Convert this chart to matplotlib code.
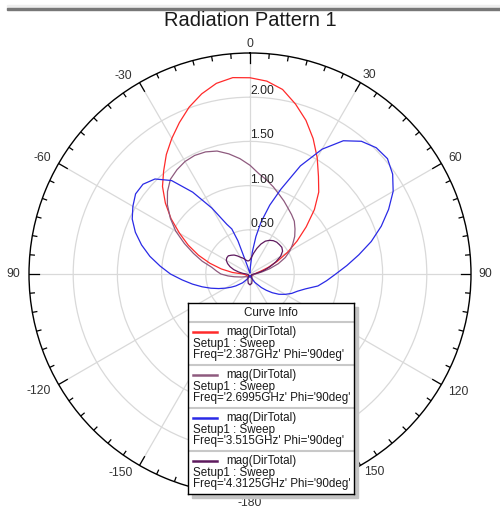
import numpy as np
import matplotlib
matplotlib.use("Agg")
import matplotlib.pyplot as plt
from matplotlib.patches import Rectangle

plt.rcParams['font.family'] = ['Liberation Sans', 'DejaVu Sans']

# curve data: theta in degrees, mag(DirTotal)
red_theta = [-180, -150, -120, -100, -90, -85, -80, -75, -70, -65, -60, -55, -50, -45, -40, -35,
             -30, -25, -20, -15, -10, -5, 0, 5, 10, 15, 20, 25, 30, 35, 40, 45, 50, 55, 60, 65,
             70, 75, 80, 90, 100, 120, 150, 180]
red_r = [0.03, 0.03, 0.04, 0.05, 0.08, 0.20, 0.33, 0.47, 0.62, 0.77, 0.92, 1.09, 1.25, 1.40, 1.52, 1.65,
         1.77, 1.89, 2.01, 2.11, 2.19, 2.23, 2.22, 2.19, 2.12, 1.99, 1.85, 1.69, 1.52, 1.35, 1.21, 1.03,
         0.83, 0.65, 0.49, 0.34, 0.22, 0.13, 0.08, 0.05, 0.04, 0.03, 0.03, 0.03]

mauve_theta = [-180, -150, -120, -110, -100, -95, -90, -85, -80, -75, -70, -65, -60, -55, -50, -45,
               -40, -35, -30, -25, -20, -15, -10, -5, 0, 5, 10, 15, 20, 25, 30, 35, 40, 45, 50, 55,
               60, 65, 70, 75, 80, 90, 100, 120, 150, 180]
mauve_r = [0.03, 0.04, 0.06, 0.10, 0.18, 0.25, 0.33, 0.38, 0.44, 0.56, 0.68, 0.82, 0.97, 1.10, 1.22, 1.32,
           1.40, 1.44, 1.47, 1.48, 1.47, 1.44, 1.38, 1.31, 1.23, 1.14, 1.08, 1.02, 0.96, 0.91, 0.86, 0.82,
           0.78, 0.72, 0.66, 0.59, 0.52, 0.44, 0.34, 0.23, 0.14, 0.06, 0.04, 0.03, 0.03, 0.03]

blue_theta = [-180, -165, -150, -140, -130, -125, -120, -115, -110, -105, -100, -95, -90, -85, -80,
              -75, -70, -65, -60, -55, -50, -45, -40, -35, -30, -25, -22, -20, -18, -15, -10, -5, 0,
              3, 6, 9, 12, 16, 20, 25, 30, 35, 40, 45, 50, 55, 60, 65, 70, 75, 80, 85, 90, 95, 100,
              105, 110, 115, 120, 125, 130, 135, 140, 150, 160, 170, 180]
blue_r = [0.02, 0.03, 0.07, 0.13, 0.21, 0.26, 0.32, 0.39, 0.47, 0.56, 0.66, 0.77, 0.90, 1.02, 1.15,
          1.27, 1.38, 1.47, 1.53, 1.58, 1.58, 1.52, 1.38, 1.13, 0.86, 0.62, 0.55, 0.40, 0.10, 0.03, 0.02, 0.01, 0.01,
          0.08, 0.25, 0.43, 0.60, 0.81, 1.02, 1.35, 1.63, 1.84, 1.96, 2.02, 2.03, 1.97, 1.87, 1.73, 1.58, 1.42,
          1.25, 1.10, 0.97, 0.87, 0.78, 0.65, 0.57, 0.52, 0.46, 0.40, 0.33, 0.26, 0.20, 0.11, 0.05, 0.03, 0.02]

purple_theta = [-180, -170, -160, -150, -130, -110, -90, -85, -80, -75, -70, -65, -60, -55, -50, -45,
                -40, -35, -30, -25, -20, -15, -10, -5, 0, 5, 10, 15, 20, 25, 30, 35, 40, 45, 50, 55,
                60, 65, 70, 75, 80, 85, 90, 110, 130, 150, 160, 170, 180]
purple_r = [0.12, 0.11, 0.07, 0.04, 0.02, 0.02, 0.04, 0.08, 0.13, 0.19, 0.24, 0.28, 0.31, 0.32, 0.32, 0.30,
            0.28, 0.25, 0.22, 0.20, 0.18, 0.16, 0.15, 0.15, 0.16, 0.19, 0.24, 0.30, 0.36, 0.41, 0.44, 0.46,
            0.47, 0.47, 0.47, 0.45, 0.40, 0.32, 0.24, 0.17, 0.11, 0.07, 0.04, 0.02, 0.02, 0.04, 0.07, 0.11, 0.12]

freqs = ["2.387GHz", "2.6995GHz", "3.515GHz", "4.3125GHz"]
colors = ["#ff2a2a", "#8e5a7e", "#2a2ae6", "#5e1a5e"]

angle_ticks = [0, 30, 60, 90, 120, 150, 180, 210, 240, 270, 300, 330]
angle_labels = ["0", "30", "60", "90", "120", "150", "-180", "-150", "-120", "90", "-60", "-30"]
r_ticks = [0.5, 1.0, 1.5, 2.0]
r_labels = ["0.50", "1.00", "1.50", "2.00"]

# where the angle labels sit (direction in deg, distance from centre in px)
lab_dir = [0, 31, 60.4, 90, 119.5, 148, 180, 213, 241, 270, 299.2, 327.4]
lab_dist = [230, 232, 235.5, 235, 239, 234, 229, 237, 242, 236.5, 238, 235]

W, H = 500, 512
fig = plt.figure(figsize=(W / 100, H / 100), dpi=100)
fig.patch.set_facecolor("white")

# top window strip
fig.patches.append(Rectangle((7 / W, 1 - 8 / H), 1, 3 / H, transform=fig.transFigure,
                             color="#eeeeee", zorder=1))
fig.patches.append(Rectangle((7 / W, 1 - 10 / H), 1, 2 / H, transform=fig.transFigure,
                             color="#777777", zorder=1))

fig.text(0.5, 1 - 21 / H, "Radiation Pattern 1", ha="center", va="center",
         fontsize=14.5, color="#1a1a1a")

cx, cy, R = 250, 274, 221
px = R / 2.5  # pixels per unit
ax = fig.add_axes([(cx - R) / W, 1 - (cy + R) / H, 2 * R / W, 2 * R / H], projection="polar")
ax.set_theta_zero_location("N")
ax.set_theta_direction(-1)

ax.set_xticks(np.radians(angle_ticks))
ax.set_xticklabels([])
ax.set_yticks(r_ticks)
ax.set_yticklabels([])
ax.tick_params(axis="both", length=0)
ax.grid(True, color="#d9d9d9", linewidth=0.9)
ax.spines["polar"].set_color("black")
ax.spines["polar"].set_linewidth(1.0)

# ticks on the outer circle, every 5 deg, longer every 30 deg
for a in range(0, 360, 5):
    ln = 10 if a % 30 == 0 else 4.5
    ax.plot([np.radians(a)] * 2, [2.5, 2.5 - ln / px], color="black", linewidth=0.9)

for th, d, lab in zip(lab_dir, lab_dist, angle_labels):
    ax.text(np.radians(th), d / px, lab, ha="center", va="center", fontsize=8.7, color="#333333")
for r, lab in zip(r_ticks, r_labels):
    ax.text(0, r, lab, ha="left", va="bottom", fontsize=8.7, color="#222222")

series = [(red_theta, red_r), (mauve_theta, mauve_r), (blue_theta, blue_r), (purple_theta, purple_r)]
for (th, r), c in zip(series, colors):
    ax.plot(np.radians(th), r, color=c, linewidth=0.9)
ax.set_rlim(0, 2.5)

# Curve Info box
bx, by, bw, bh = 188.3, 303.3, 166, 190.7
fig.patches.append(Rectangle(((bx + 4) / W, 1 - (by + bh + 4) / H), bw / W, bh / H,
                             transform=fig.transFigure, color="#c4c4c4", zorder=2))
lax = fig.add_axes([bx / W, 1 - (by + bh) / H, bw / W, bh / H])
lax.set_zorder(3)
lax.set_xlim(0, bw)
lax.set_ylim(bh, 0)
lax.set_xticks([])
lax.set_yticks([])
for s in lax.spines.values():
    s.set_color("black")
    s.set_linewidth(1.0)
lax.text(bw / 2, 10, "Curve Info", ha="center", va="center", fontsize=8.4, color="#1a1a1a")
for i, (f, c) in enumerate(zip(freqs, colors)):
    y0 = 19 + 43 * i
    lax.axhline(y0, color="#c8c8c8", linewidth=1.5)
    lax.plot([4.4, 28.4], [y0 + 9.7, y0 + 9.7], color=c, linewidth=1.8)
    lax.text(38.4, y0 + 9.7, "mag(DirTotal)", ha="left", va="center", fontsize=8.4, color="#1a1a1a")
    lax.text(4.4, y0 + 21.7, "Setup1 : Sweep", ha="left", va="center", fontsize=8.4, color="#1a1a1a")
    lax.text(4.4, y0 + 32.7, "Freq='%s' Phi='90deg'" % f, ha="left", va="center",
             fontsize=8.4, color="#1a1a1a")

fig.savefig("out.png", dpi=100)
